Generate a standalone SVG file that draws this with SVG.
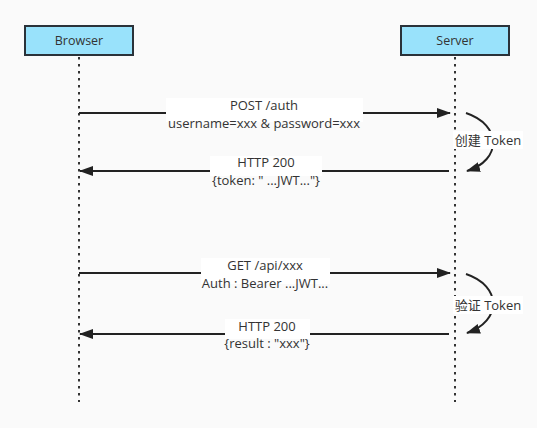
<svg xmlns="http://www.w3.org/2000/svg" width="537" height="428" viewBox="0 0 537 428">
<style>
.bg{fill:#fafafa}
.actor rect{fill:#99e2fb;stroke:#2a3239;stroke-width:2}
.actor text{font-family:"Open Sans","Noto Sans CJK SC",sans-serif;font-size:12.5px;fill:#333;text-anchor:middle}
.life{stroke:#333;stroke-width:2;stroke-dasharray:2.5 4.5;fill:none}
.msg{stroke:#222;stroke-width:2;fill:none}
.lbl{fill:#ffffff}
.t{font-family:"Open Sans","Noto Sans CJK SC",sans-serif;font-size:13px;fill:#333;text-anchor:middle}
</style>
<defs>
<marker id="ah" viewBox="0 0 14 10" refX="13" refY="5" markerWidth="14" markerHeight="10" markerUnits="userSpaceOnUse" orient="auto">
<path d="M0,0 L14,5 L0,10 Z" fill="#222"/>
</marker>
</defs>
<rect class="bg" x="0" y="0" width="537" height="428"/>
<g id="lifelines">
<line class="life" x1="79" y1="57" x2="79" y2="402"/>
<line class="life" x1="455" y1="57" x2="455" y2="402"/>
</g>
<g id="browser" class="actor">
<rect x="25" y="26" width="108" height="29"/>
<text x="79" y="45">Browser</text>
</g>
<g id="server" class="actor">
<rect x="401" y="26" width="108" height="29"/>
<text x="455" y="45">Server</text>
</g>
<g id="connectors">
<line class="msg" x1="79" y1="113" x2="450" y2="113" marker-end="url(#ah)"/>
<path class="msg" d="M466,113 C502,125 502,160 467,171" marker-end="url(#ah)"/>
<line class="msg" x1="449" y1="171" x2="80" y2="171" marker-end="url(#ah)"/>
<line class="msg" x1="79" y1="273" x2="450" y2="273" marker-end="url(#ah)"/>
<path class="msg" d="M466,274 C502,286 502,321 467,333" marker-end="url(#ah)"/>
<line class="msg" x1="449" y1="334" x2="80" y2="334" marker-end="url(#ah)"/>
</g>
<g id="label-post">
<rect class="lbl" x="166" y="98" width="197" height="24"/>
<text class="t" x="264" y="110">POST /auth</text>
<text class="t" x="264" y="128">username=xxx &amp; password=xxx</text>
</g>
<g id="label-create">
<rect class="lbl" x="453" y="131" width="70" height="18"/>
<text class="t" x="488" y="145">创建 Token</text>
</g>
<g id="label-resp1">
<rect class="lbl" x="210" y="156" width="112" height="20"/>
<text class="t" x="266" y="167">HTTP 200</text>
<text class="t" x="266" y="185">{token: " ...JWT..."}</text>
</g>
<g id="label-get">
<rect class="lbl" x="201" y="258" width="129" height="26"/>
<text class="t" x="265" y="270">GET /api/xxx</text>
<text class="t" x="265" y="288">Auth : Bearer ...JWT...</text>
</g>
<g id="label-verify">
<rect class="lbl" x="453" y="296" width="70" height="18"/>
<text class="t" x="488" y="310">验证 Token</text>
</g>
<g id="label-resp2">
<rect class="lbl" x="225" y="319" width="85" height="20"/>
<text class="t" x="267" y="331">HTTP 200</text>
<text class="t" x="267" y="348">{result : "xxx"}</text>
</g>
</svg>
